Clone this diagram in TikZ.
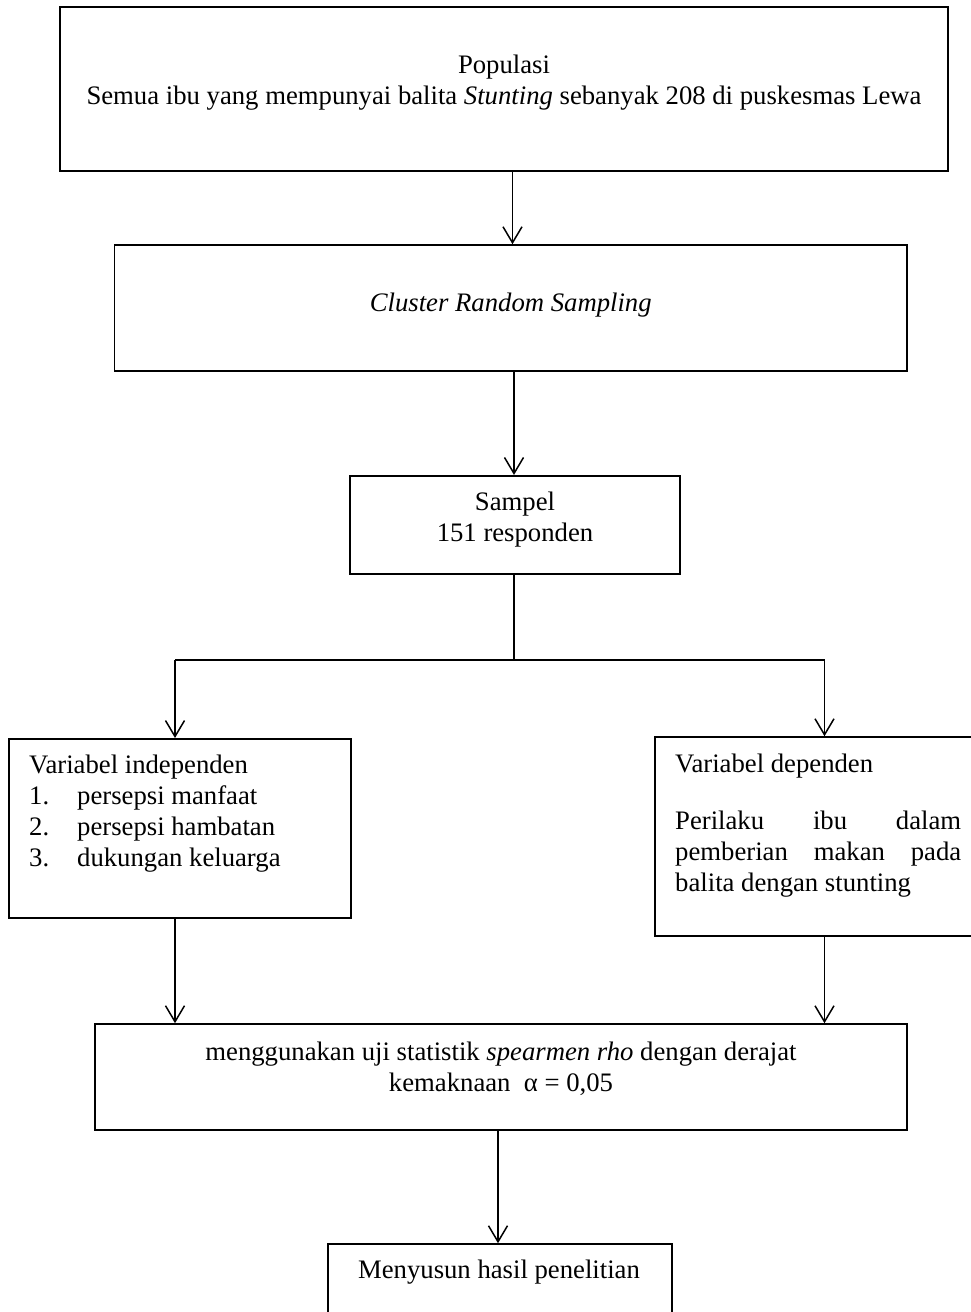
\documentclass[tikz,border=0pt]{standalone}
\usepackage{fontspec}
\setmainfont{Liberation Serif}
\usetikzlibrary{arrows.meta}
\begin{document}
\begin{tikzpicture}[x=1pt,y=-1pt,
  box/.style={draw,line width=1.6pt,rectangle,inner sep=0pt,minimum width=#1},
  txt/.style={inner sep=0pt,font=\fontsize{26.7}{31}\selectfont},
  arr/.style={line width=1.5pt,-{Straight Barb[length=16pt,width=19pt,line width=1.5pt]}},
  ln/.style={line width=1.5pt}]
\useasboundingbox (0,0) rectangle (971,1312);
% boxes
\node[box=888pt,minimum height=164pt] (b1) at (504,89) {};
\node[box=792.5pt,minimum height=126pt] (b2) at (510.75,308) {};
\node[box=330pt,minimum height=98.5pt] (b3) at (515,525) {};
\node[box=342.3pt,minimum height=179.2pt] (b4) at (180,828.4) {};
\node[box=340pt,minimum height=199pt] (b5) at (825,836.5) {};
\node[box=812pt,minimum height=106pt] (b6) at (501,1077) {};
\node[box=344pt,minimum height=86pt] (b7) at (500,1287) {};
% texts
\node[txt,align=center] (t1) at (504,82.5) {Populasi\\Semua ibu yang mempunyai balita \textit{Stunting} sebanyak 208 di puskesmas Lewa};
\node[txt] (t2) at (510.75,305) {\textit{Cluster Random Sampling}};
\node[txt,align=center] (t3) at (515,520) {Sampel\\151 responden};
\node[txt,align=left,anchor=west] (t4) at (29,814) {Variabel independen\\\makebox[48pt][l]{1.}persepsi manfaat\\\makebox[48pt][l]{2.}persepsi hambatan\\\makebox[48pt][l]{3.}dukungan keluarga};
\node[txt,anchor=west] (t5a) at (675,766) {Variabel dependen};
\node[txt,align=left,anchor=west] (t5b) at (675,854) {\makebox[286pt][s]{Perilaku ibu dalam}\\\makebox[286pt][s]{pemberian makan pada}\\balita dengan stunting};
\node[txt,align=center] (t6) at (501,1068.5) {menggunakan uji statistik \textit{spearmen rho} dengan derajat\\kemaknaan\ \ α = 0,05};
\node[txt] (t7) at (499,1272) {Menyusun hasil penelitian};
% connectors
\coordinate (j) at (514,660);
\coordinate (jl) at (175,660);
\coordinate (jr) at (824.5,660);
\coordinate (ja) at (512.5,0);
\coordinate (jb) at (514,0);
\coordinate (jc) at (498,0);
\draw[arr] (b1.south -| ja) -- (b2.north -| ja);
\draw[arr] (b2.south -| jb) -- (b3.north -| jb);
\draw[ln] (b3.south -| jb) -- (j);
\draw[ln] (jl) -- (jr);
\draw[arr] (jl) -- (jl |- b4.north);
\draw[arr] (jr) -- (jr |- b5.north);
\draw[arr] (b4.south -| jl) -- (b6.north -| jl);
\draw[arr] (b5.south -| jr) -- (b6.north -| jr);
\draw[arr] (b6.south -| jc) -- (b7.north -| jc);
\end{tikzpicture}
\end{document}
